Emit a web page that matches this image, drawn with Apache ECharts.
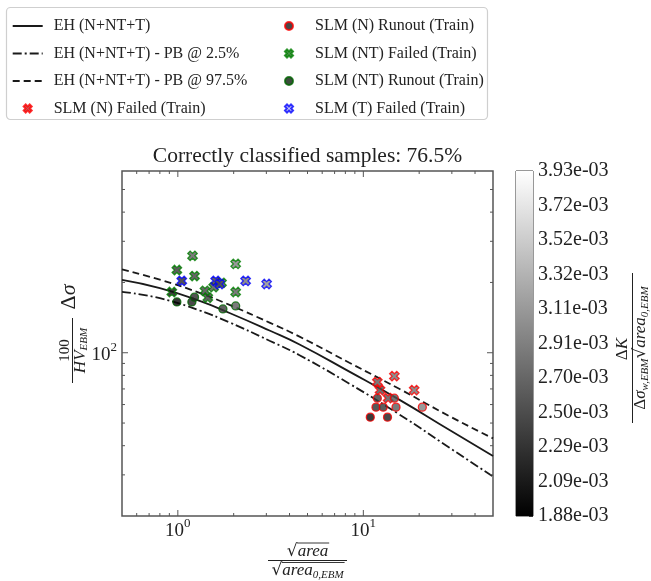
<!DOCTYPE html>
<html><head><meta charset="utf-8">
<script src="https://cdn.jsdelivr.net/npm/echarts@6/dist/echarts.min.js"></script>
<style>html,body{margin:0;padding:0;background:#fff}#c{width:651px;height:581px}</style>
</head><body><div id="c"></div>
<script>
// ---------- data ----------
const curveX   = [0.5, 0.8, 1.31, 1.9, 3.12, 4.53, 8.41, 15.6, 29.0, 50];
const ehMedian = [205, 189, 166.7, 148, 124.5, 108.5, 83.0, 63.0, 46.8, 36.1];
const ehLow    = [182.2, 171.2, 151.7, 134.8, 112.6, 97.6, 73.7, 54.5, 39.3, 29.5];
const ehHigh   = [227.5, 205.5, 180.4, 160.2, 134.6, 117.2, 90.6, 70.1, 53.6, 43.0];

// [sqrt(area)/sqrt(area0), 100/HV*dSigma, dK-parameter]
const nFailed  = [[14.7,79.4,2.8e-3],[11.9,74.9,2.6e-3],[12.3,69.2,2.5e-3],[18.8,69.2,2.8e-3],[13.6,63.9,2.55e-3]];
const nRunout  = [[11.9,63.9,2.35e-3],[14.7,63.9,2.55e-3],[11.7,58.5,2.25e-3],[12.8,58.5,2.3e-3],[15.0,58.5,2.6e-3],[20.8,58.5,2.9e-3],[10.9,53.0,1.95e-3],[13.5,53.0,2.1e-3]];
const ntFailed = [[1.20,260,2.6e-3],[0.988,226,2.3e-3],[1.23,213,2.4e-3],[2.05,240,2.9e-3],[0.928,182,2.0e-3],[1.40,184,2.4e-3],[1.45,172,2.35e-3],[1.56,191,2.5e-3],[1.72,199,2.6e-3],[2.05,182,2.6e-3]];
const ntRunout = [[0.988,165,1.9e-3],[1.19,165,2.1e-3],[1.23,173,2.2e-3],[1.75,154,2.35e-3],[2.05,158.6,2.6e-3]];
const tFailed  = [[1.05,203,2.2e-3],[1.60,203,2.35e-3],[1.68,197,2.55e-3],[2.32,203,2.8e-3],[3.01,197,3.0e-3]];

const colorMin = 1.88e-3, colorMax = 3.93e-3;
const cbTickLabels = ['1.88e-03','2.09e-03','2.29e-03','2.50e-03','2.70e-03','2.91e-03','3.11e-03','3.32e-03','3.52e-03','3.72e-03','3.93e-03'];
const xMajorTicks = [1, 10];
const xMinorTicks = [0.6,0.7,0.8,0.9,2,3,4,5,6,7,8,9,20,30,40];
const yMajorTicks = [100];
const yMinorTicks = [30,40,50,60,70,80,90,200,300,400,500];

const titleText = 'Correctly classified samples: 76.5%';
const names = ['EH (N+NT+T)','EH (N+NT+T) - PB @ 2.5%','EH (N+NT+T) - PB @ 97.5%','SLM (N) Failed (Train)',
               'SLM (N) Runout (Train)','SLM (NT) Failed (Train)','SLM (NT) Runout (Train)','SLM (T) Failed (Train)'];

// ---------- helpers ----------
const SERIF = 'Liberation Serif';
const TXT = '#222';
const mctx = document.createElement('canvas').getContext('2d');
function tw(t, font){ mctx.font = font; return mctx.measureText(t).width; }
const X_SYM = 'path://M0,2.5L2.5,0L5,2.5L7.5,0L10,2.5L7.5,5L10,7.5L7.5,10L5,7.5L2.5,10L0,7.5L2.5,5Z';
function pair(xs, ys){ return xs.map((x,i)=>[x, ys[i]]); }
function powLabel(v){
  const e = Math.log10(v), r = Math.round(e);
  if (Math.abs(e - r) > 1e-6) return '';
  return '{b|10}{s|' + r + '}';
}
const powRich = {
  b:{fontFamily:SERIF,fontSize:19,lineHeight:24,color:TXT,verticalAlign:'bottom'},
  s:{fontFamily:SERIF,fontSize:13,lineHeight:13,color:TXT,verticalAlign:'top'}
};
function tickSeries(data, isX){
  return {type:'custom', xAxisIndex:0, yAxisIndex:0, silent:true, clip:false, z:5, data:data,
    renderItem:function(params, api){
      const cs = params.coordSys;
      const len = api.value(2) ? 6 : 3;
      const st = {stroke:'#555', lineWidth:1};
      if (isX){
        const px = api.coord([api.value(0), api.value(1)])[0];
        return {type:'group', children:[
          {type:'line', shape:{x1:px,y1:cs.y+cs.height,x2:px,y2:cs.y+cs.height-len}, style:st},
          {type:'line', shape:{x1:px,y1:cs.y,x2:px,y2:cs.y+len}, style:st}]};
      } else {
        const py = api.coord([api.value(0), api.value(1)])[1];
        return {type:'group', children:[
          {type:'line', shape:{x1:cs.x,y1:py,x2:cs.x+len,y2:py}, style:st},
          {type:'line', shape:{x1:cs.x+cs.width,y1:py,x2:cs.x+cs.width-len,y2:py}, style:st}]};
      }
    }};
}
const xTickData = xMajorTicks.map(v=>[v,100,1]).concat(xMinorTicks.map(v=>[v,100,0]));
const yTickData = yMajorTicks.map(v=>[1,v,1]).concat(yMinorTicks.map(v=>[1,v,0]));

function lineSeries(name, ys, dash){
  return {type:'line', name:name, xAxisIndex:0, yAxisIndex:0, data:pair(curveX, ys), smooth:0.5,
    symbol:'none', z:2, lineStyle:{color:'#1a1a1a', width:1.8, type:dash}, itemStyle:{color:'#1a1a1a'}};
}
function scatterSeries(name, data, sym, edge, legendFill, size){
  return {type:'scatter', name:name, xAxisIndex:0, yAxisIndex:0, data:data, symbol:sym, symbolSize:size, z:4,
    itemStyle:{color:legendFill, borderColor:edge, borderWidth:1.3}};
}

// ---------- graphic (axis titles, legend frame) ----------
const G = [];
G.push({type:'rect', shape:{x:6.5,y:7.5,width:481,height:112,r:4}, style:{fill:'none', stroke:'#cfcfcf', lineWidth:1.2}});
const titleFont = 21.5;
const titleW = tw(titleText, titleFont + 'px "' + SERIF + '"');
// x-axis title: sqrt(area) / sqrt(area_0,EBM)
(function(){
  const fs = 17, ss = 11, cx = 307.5;
  const rFont = fs+'px "DejaVu Serif"', iFont = 'italic '+fs+'px "'+SERIF+'"', sFont = 'italic '+ss+'px "'+SERIF+'"';
  const wR = tw('√', rFont), wA = tw('area', iFont), wS = tw('0,EBM', sFont);
  const rich = {r:{fontFamily:'DejaVu Serif',fontSize:fs,lineHeight:20,fill:TXT},
                i:{fontFamily:SERIF,fontStyle:'italic',fontSize:fs,lineHeight:20,fill:TXT},
                s:{fontFamily:SERIF,fontStyle:'italic',fontSize:ss,lineHeight:11,verticalAlign:'bottom',fill:TXT}};
  let y = 551.5, x0 = cx - (wR+wA)/2;
  G.push({type:'text', x:x0, y:y, style:{text:'{r|√}{i|area}', rich:rich, align:'left', verticalAlign:'middle', fill:TXT}});
  G.push({type:'line', shape:{x1:x0+wR-0.5,y1:y-8.5,x2:x0+wR+wA+1,y2:y-8.5}, style:{stroke:TXT,lineWidth:0.9}});
  G.push({type:'line', shape:{x1:268,y1:560.5,x2:347,y2:560.5}, style:{stroke:TXT,lineWidth:1}});
  y = 571; x0 = cx - (wR+wA+wS)/2;
  G.push({type:'text', x:x0, y:y, style:{text:'{r|√}{i|area}{s|0,EBM}', rich:rich, align:'left', verticalAlign:'middle', fill:TXT}});
  G.push({type:'line', shape:{x1:x0+wR-0.5,y1:y-8.5,x2:x0+wR+wA+wS+1,y2:y-8.5}, style:{stroke:TXT,lineWidth:0.9}});
})();
// y-axis title: 100/HV_EBM  Δσ (rotated)
(function(){
  const R = Math.PI/2;
  G.push({type:'line', shape:{x1:72.5,y1:318,x2:72.5,y2:383}, style:{stroke:TXT,lineWidth:1}});
  G.push({type:'text', x:65, y:350.5, rotation:R, style:{text:'100', fontFamily:SERIF, fontSize:15, fill:TXT, align:'center', verticalAlign:'middle'}});
  G.push({type:'text', x:80.5, y:350.5, rotation:R, style:{text:'{h|HV}{s|EBM}', align:'center', verticalAlign:'middle', fill:TXT,
    rich:{h:{fontFamily:SERIF,fontStyle:'italic',fontSize:17,lineHeight:18,fill:TXT},
          s:{fontFamily:SERIF,fontStyle:'italic',fontSize:11,lineHeight:11,verticalAlign:'bottom',fill:TXT}}}});
  G.push({type:'text', x:69, y:297, rotation:R, style:{text:'{d|Δ}{g|σ}', align:'center', verticalAlign:'middle', fill:TXT,
    rich:{d:{fontFamily:SERIF,fontSize:22,fill:TXT}, g:{fontFamily:SERIF,fontStyle:'italic',fontSize:22,fill:TXT}}}});
})();
// colorbar title: ΔK / (Δσ_w,EBM sqrt(area_0,EBM)) (rotated)
(function(){
  const R = Math.PI/2, fs = 17, ss = 11, cy = 348, cx = 641;
  G.push({type:'line', shape:{x1:632.5,y1:273,x2:632.5,y2:423}, style:{stroke:TXT,lineWidth:1}});
  G.push({type:'text', x:623, y:349, rotation:R, style:{text:'{d|Δ}{k|K}', align:'center', verticalAlign:'middle', fill:TXT,
    rich:{d:{fontFamily:SERIF,fontSize:fs,fill:TXT}, k:{fontFamily:SERIF,fontStyle:'italic',fontSize:fs,fill:TXT}}}});
  const dF = fs+'px "'+SERIF+'"', iF = 'italic '+fs+'px "'+SERIF+'"', sF = 'italic '+ss+'px "'+SERIF+'"', rF = fs+'px "DejaVu Serif"';
  const w1 = tw('Δ', dF) + tw('σ', iF) + tw('w,EBM', sF);
  const wR = tw('√', rF), wA = tw('area', iF), wS = tw('0,EBM', sF);
  const total = w1 + wR + wA + wS;
  const u0 = -total/2 + w1 + wR, u1 = total/2 + 1;
  G.push({type:'text', x:cx, y:cy, rotation:R, style:{text:'{d|Δ}{i|σ}{s|w,EBM}{r|√}{i|area}{s|0,EBM}', align:'center', verticalAlign:'middle', fill:TXT,
    rich:{d:{fontFamily:SERIF,fontSize:fs,lineHeight:20,fill:TXT},
          i:{fontFamily:SERIF,fontStyle:'italic',fontSize:fs,lineHeight:20,fill:TXT},
          r:{fontFamily:'DejaVu Serif',fontSize:fs,lineHeight:20,fill:TXT},
          s:{fontFamily:SERIF,fontStyle:'italic',fontSize:ss,lineHeight:11,verticalAlign:'bottom',fill:TXT}}}});
  G.push({type:'line', shape:{x1:cx-8.5,y1:cy-u1,x2:cx-8.5,y2:cy-u0+0.5}, style:{stroke:TXT,lineWidth:0.9}});
})();

// ---------- chart ----------
const chart = echarts.init(document.getElementById('c'), null, {renderer:'canvas'});
const legendText = {fontFamily:SERIF, fontSize:16, lineHeight:20, color:TXT, padding:[0,0,0,6]};
function legendItems(list){
  return list.map(n => names.indexOf(n) < 3 ? {name:n, itemStyle:{opacity:0}} : {name:n});
}
chart.setOption({
  animation:false,
  backgroundColor:'#ffffff',
  title:{text:titleText, left:307.5 - titleW/2, top:145, padding:0,
    textStyle:{fontFamily:SERIF, fontSize:titleFont, fontWeight:'normal', color:TXT}},
  legend:[
    {data:legendItems(names.slice(0,4)), orient:'vertical', left:11.7, top:16, itemWidth:30, itemHeight:8, itemGap:7.5, padding:0, selectedMode:false, textStyle:legendText},
    {data:legendItems(names.slice(4)), orient:'vertical', left:284, top:16, itemWidth:30, itemHeight:8, itemGap:7.5, padding:0, selectedMode:false, textStyle:legendText}
  ],
  grid:[
    {left:122, top:171, width:371, height:345, show:true, borderColor:'#555', borderWidth:1.5, backgroundColor:'transparent', containLabel:false},
    {left:516, top:171, width:17, height:345, show:true, borderColor:'#333', borderWidth:1, backgroundColor:'transparent', containLabel:false}
  ],
  xAxis:[
    {type:'log', gridIndex:0, min:0.5, max:50, logBase:10, axisLine:{show:false}, axisTick:{show:false}, splitLine:{show:false},
      axisLabel:{formatter:powLabel, rich:powRich, margin:1, showMinLabel:false, showMaxLabel:false}},
    {type:'category', gridIndex:1, data:['cb'], show:false, boundaryGap:true}
  ],
  yAxis:[
    {type:'log', gridIndex:0, min:20, max:600, logBase:10, axisLine:{show:false}, axisTick:{show:false}, splitLine:{show:false},
      axisLabel:{formatter:powLabel, rich:powRich, margin:5, showMinLabel:false, showMaxLabel:false}},
    {type:'value', gridIndex:1, min:0, max:10, interval:1, position:'right', axisLine:{show:false}, splitLine:{show:false},
      axisTick:{show:true, inside:true, length:4, lineStyle:{color:'#333', width:1}},
      axisLabel:{margin:5, fontFamily:SERIF, fontSize:20, color:TXT, formatter:function(v){ return cbTickLabels[Math.round(v)]; }}}
  ],
  visualMap:{type:'continuous', show:false, min:colorMin, max:colorMax, dimension:2, seriesIndex:[3,4,5,6,7],
    inRange:{color:['#000000','#ffffff']}},
  graphic:G,
  series:[
    lineSeries(names[0], ehMedian, 'solid'),
    lineSeries(names[1], ehLow, [9,3,2,3]),
    lineSeries(names[2], ehHigh, [7,4]),
    scatterSeries(names[3], nFailed, X_SYM, '#ff0000', '#b33', 9.5),
    scatterSeries(names[4], nRunout, 'circle', '#ff0000', '#1a1a1a', 8),
    scatterSeries(names[5], ntFailed, X_SYM, '#008000', '#2a7a2a', 9.5),
    scatterSeries(names[6], ntRunout, 'circle', '#006400', '#0d1f0d', 8),
    scatterSeries(names[7], tFailed, X_SYM, '#0000ff', '#dde', 9.5),
    tickSeries(xTickData, true),
    tickSeries(yTickData, false),
    {type:'bar', xAxisIndex:1, yAxisIndex:1, data:[10], barWidth:'100%', silent:true,
      itemStyle:{color:{type:'linear', x:0, y:0, x2:0, y2:1, colorStops:[{offset:0,color:'#ffffff'},{offset:1,color:'#000000'}]}}}
  ]
});
</script>
</body></html>
